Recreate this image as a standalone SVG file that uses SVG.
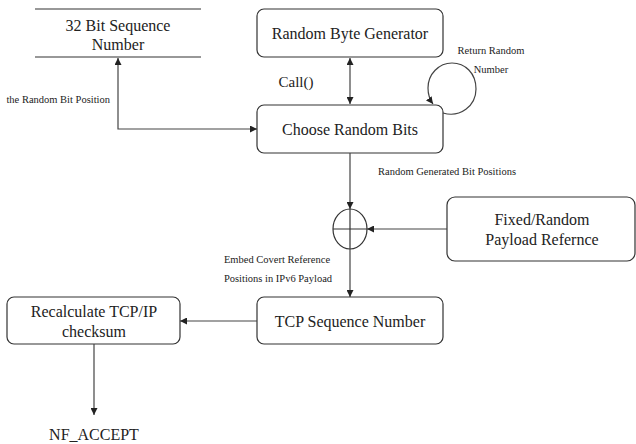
<svg xmlns="http://www.w3.org/2000/svg" width="636" height="444" viewBox="0 0 636 444">
<style>
.box{fill:#fff;stroke:#333;stroke-width:1.2}
.ln{fill:none;stroke:#444;stroke-width:1.2}
text{fill:#222;text-anchor:middle}
.m{font-size:16px}
.s{font-size:10.5px}
</style>
<defs>
<marker id="ah" viewBox="0 0 10 10" refX="10" refY="5" markerWidth="7" markerHeight="7" orient="auto-start-reverse" markerUnits="userSpaceOnUse"><path d="M0,0 L10,5 L0,10 z" fill="#222"/></marker>
</defs>
<rect width="636" height="444" fill="#fff"/>
<g font-family="Liberation Serif, DejaVu Serif, serif">
<g id="seq32">
<line x1="35" y1="9" x2="201" y2="9" stroke="#333" stroke-width="1.2"/>
<line x1="35" y1="57" x2="201" y2="57" stroke="#333" stroke-width="1.2"/>
<text class="m" x="118" y="31">32 Bit Sequence</text>
<text class="m" x="118" y="50">Number</text>
</g>
<g id="rbg">
<rect class="box" x="257" y="9" width="186" height="48" rx="7"/>
<text class="m" x="350" y="39">Random Byte Generator</text>
</g>
<g id="crb">
<rect class="box" x="257" y="105" width="186" height="48" rx="7"/>
<text class="m" x="350" y="135">Choose Random Bits</text>
</g>
<g id="sum">
<ellipse cx="350" cy="229" rx="17" ry="20" fill="#fff" stroke="#333" stroke-width="1.2"/>
<line x1="333" y1="229" x2="367" y2="229" stroke="#333" stroke-width="1.2"/>
<line x1="350" y1="209" x2="350" y2="249" stroke="#333" stroke-width="1.2"/>
</g>
<g id="fixed">
<rect class="box" x="447" y="197" width="188" height="64" rx="8"/>
<text class="m" x="542" y="225">Fixed/Random</text>
<text class="m" x="542" y="245">Payload Refernce</text>
</g>
<g id="tcp">
<rect class="box" x="257" y="297" width="186" height="47" rx="7"/>
<text class="m" x="350" y="327">TCP Sequence Number</text>
</g>
<g id="recalc">
<rect class="box" x="7" y="297" width="173" height="47" rx="7"/>
<text class="m" x="94" y="317">Recalculate TCP/IP</text>
<text class="m" x="94" y="337">checksum</text>
</g>
<g id="accept">
<text class="m" x="94" y="440">NF_ACCEPT</text>
</g>
<g id="connectors">
<line class="ln" x1="350" y1="58" x2="350" y2="104" marker-start="url(#ah)" marker-end="url(#ah)"/>
<path class="ln" d="M257,129 H118 V58" marker-start="url(#ah)" marker-end="url(#ah)"/>
<path class="ln" d="M443,113 C460,118 476,106 476,89 C476,73 465,63 452,63 C439,63 428,74 428,88 C428,95 430,100 433,104" marker-end="url(#ah)"/>
<line class="ln" x1="350" y1="153" x2="350" y2="209" marker-end="url(#ah)"/>
<line class="ln" x1="447" y1="229" x2="367" y2="229" marker-end="url(#ah)"/>
<line class="ln" x1="350" y1="249" x2="350" y2="297" marker-end="url(#ah)"/>
<line class="ln" x1="257" y1="321" x2="180" y2="321" marker-end="url(#ah)"/>
<line class="ln" x1="94" y1="344" x2="94" y2="415" marker-end="url(#ah)"/>
<text x="296" y="87" font-size="15">Call()</text>
<text class="s" x="110" y="103" text-anchor="end" style="text-anchor:end">the Random Bit Position</text>
<text class="s" x="491" y="54">Return Random</text>
<text class="s" x="491" y="73">Number</text>
<text class="s" x="447" y="175">Random Generated Bit Positions</text>
<text class="s" x="277" y="263">Embed Covert Reference</text>
<text class="s" x="278" y="282">Positions in IPv6 Payload</text>
</g>
</g>
</svg>
